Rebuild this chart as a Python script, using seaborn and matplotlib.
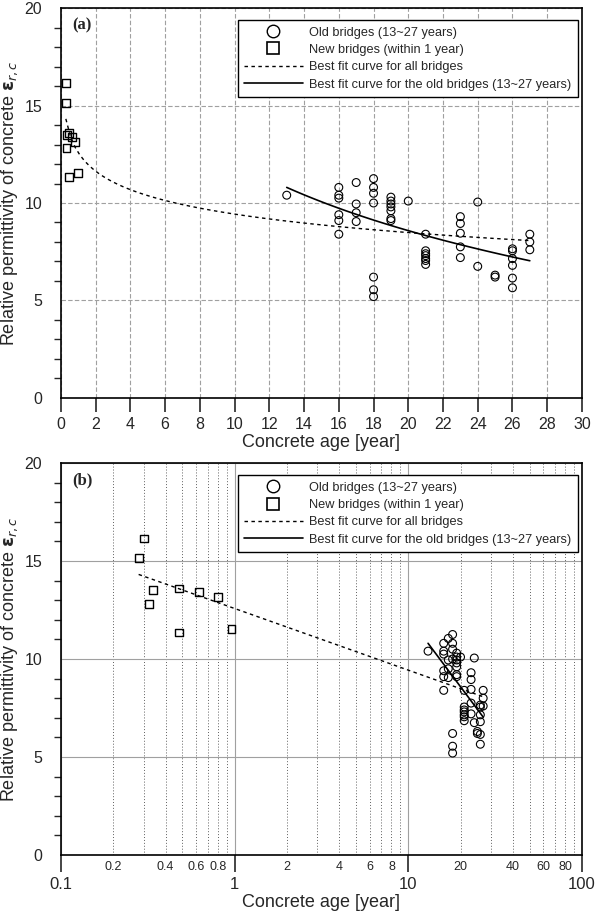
import numpy as np
import pandas as pd
import matplotlib
matplotlib.use("Agg")
import matplotlib.pyplot as plt
import matplotlib.ticker as mticker
from matplotlib.lines import Line2D
import seaborn as sns

# New bridges (within 1 year)
new_age = [0.30, 0.28, 0.34, 0.32, 0.48, 0.62, 0.80, 0.48, 0.96]
new_eps = [16.15, 15.15, 13.5, 12.8, 13.6, 13.4, 13.15, 11.35, 11.55]

# Old bridges (13~27 years)
old_age = [13,
           16, 16, 16, 16, 16, 16,
           17, 17, 17, 17,
           18, 18, 18, 18, 18, 18, 18,
           19, 19, 19, 19, 19, 19, 19,
           20,
           21, 21, 21, 21, 21, 21, 21,
           23, 23, 23, 23, 23,
           24, 24,
           25, 25,
           26, 26, 26, 26, 26, 26,
           27, 27, 27]
old_eps = [10.4,
           10.8, 10.4, 10.25, 9.4, 9.1, 8.4,
           11.05, 9.95, 9.5, 9.05,
           11.25, 10.8, 10.5, 10.0, 6.2, 5.55, 5.2,
           10.3, 10.1, 9.95, 9.8, 9.6, 9.2, 9.1,
           10.1,
           8.4, 7.55, 7.4, 7.3, 7.15, 7.05, 6.85,
           9.3, 8.95, 8.45, 7.75, 7.2,
           10.05, 6.75,
           6.3, 6.2,
           7.65, 7.55, 7.15, 6.8, 6.15, 5.65,
           8.4, 8.0, 7.6]

legend_labels = ["Old bridges (13~27 years)",
                 "New bridges (within 1 year)",
                 "Best fit curve for all bridges",
                 "Best fit curve for the old bridges (13~27 years)"]

df_new = pd.DataFrame({"age": new_age, "eps": new_eps})
df_old = pd.DataFrame({"age": old_age, "eps": old_eps})
df_all = pd.concat([df_new, df_old], ignore_index=True)

sns.set_style("white")
plt.rcParams["font.family"] = ["Liberation Sans", "DejaVu Sans"]
plt.rcParams["mathtext.fontset"] = "dejavusans"

fig = plt.figure(figsize=(5.95, 9.14), dpi=100)
ax_a = fig.add_axes([0.1025, 0.5646, 0.8755, 0.4266])
ax_b = fig.add_axes([0.1025, 0.0646, 0.8755, 0.4288])

ylabel = r"Relative permittivity of concrete $\mathbf{\varepsilon}_{r,c}$"
grid_col = "#a0a0a0"


def draw_points(ax):
    sns.scatterplot(data=df_old, x="age", y="eps", ax=ax, marker="o", s=32,
                    facecolor="none", edgecolor="black", linewidth=0.8, zorder=4)
    sns.scatterplot(data=df_new, x="age", y="eps", ax=ax, marker="s", s=32,
                    facecolor="none", edgecolor="black", linewidth=1.0, zorder=4)
    sns.regplot(data=df_all, x="age", y="eps", ax=ax, logx=True, ci=None,
                scatter=False, line_kws=dict(color="black", lw=1.0, ls=(0, (2.5, 2.5))))
    sns.regplot(data=df_old, x="age", y="eps", ax=ax, logx=True, ci=None,
                scatter=False, line_kws=dict(color="black", lw=1.2, ls="-"))


def style_axes(ax, tag, xlabelpad):
    ax.set_ylim(0, 20)
    ax.yaxis.set_major_locator(mticker.MultipleLocator(5))
    ax.yaxis.set_minor_locator(mticker.MultipleLocator(1))
    ax.tick_params(axis="y", which="major", direction="out", length=10, width=1.0,
                   labelsize=11.5, color="black")
    ax.tick_params(axis="y", which="minor", direction="out", length=5, width=1.0, left=True)
    ax.set_ylabel(ylabel, fontsize=13, labelpad=3)
    ax.set_xlabel("Concrete age [year]", fontsize=13, labelpad=xlabelpad)
    for sp in ax.spines.values():
        sp.set_color("black")
        sp.set_linewidth(1.2)
    ax.text(0.022, 0.975, tag, transform=ax.transAxes, fontsize=12, fontweight="bold",
            family=["Liberation Serif", "DejaVu Serif"], va="top", ha="left")
    handles = [
        Line2D([], [], ls="none", marker="o", ms=9, mfc="none", mec="black", mew=1.0),
        Line2D([], [], ls="none", marker="s", ms=9, mfc="none", mec="black", mew=1.2),
        Line2D([], [], color="black", lw=1.0, ls=(0, (2.5, 2.5))),
        Line2D([], [], color="black", lw=1.2, ls="-"),
    ]
    leg = ax.legend(handles, legend_labels, loc="upper right", fontsize=9.15,
                    frameon=True, fancybox=False, framealpha=1, edgecolor="black",
                    handlelength=4.6, handletextpad=0.5, borderpad=0.5,
                    labelspacing=0.42, bbox_to_anchor=(1.004, 0.985))
    leg.get_frame().set_linewidth(1.0)


# (a) linear x
draw_points(ax_a)
ax_a.set_xlim(0, 30)
ax_a.xaxis.set_major_locator(mticker.MultipleLocator(2))
ax_a.tick_params(axis="x", which="major", direction="out", length=10, width=1.2,
                 labelsize=11.5, bottom=True)
ax_a.grid(True, which="major", axis="both", color=grid_col, ls=(0, (4, 2)), lw=0.8)
style_axes(ax_a, "(a)", 2)

# (b) log x
draw_points(ax_b)
ax_b.set_xscale("log")
ax_b.set_xlim(0.1, 100)
ax_b.xaxis.set_major_locator(mticker.LogLocator(base=10))
ax_b.xaxis.set_major_formatter(mticker.FuncFormatter(lambda v, p: f"{v:g}"))
ax_b.xaxis.set_minor_locator(mticker.LogLocator(base=10, subs=np.arange(2, 10)))
minor_fmt = lambda v, p: (f"{v:g}" if round(v / 10 ** np.floor(np.log10(v) + 1e-9)) in (2, 4, 6, 8) else "")
ax_b.xaxis.set_minor_formatter(mticker.FuncFormatter(minor_fmt))
ax_b.tick_params(axis="x", which="major", direction="out", length=12, width=1.2,
                 labelsize=12, bottom=True, pad=4)
ax_b.tick_params(axis="x", which="minor", length=0, labelsize=9, pad=4)
ax_b.grid(True, which="major", axis="y", color=grid_col, ls="-", lw=0.8)
ax_b.grid(True, which="major", axis="x", color=grid_col, ls="-", lw=0.8)
ax_b.grid(True, which="minor", axis="x", color="#606060", ls=(0, (1, 2)), lw=0.7)
style_axes(ax_b, "(b)", 1)

fig.savefig("out.png", dpi=100)
